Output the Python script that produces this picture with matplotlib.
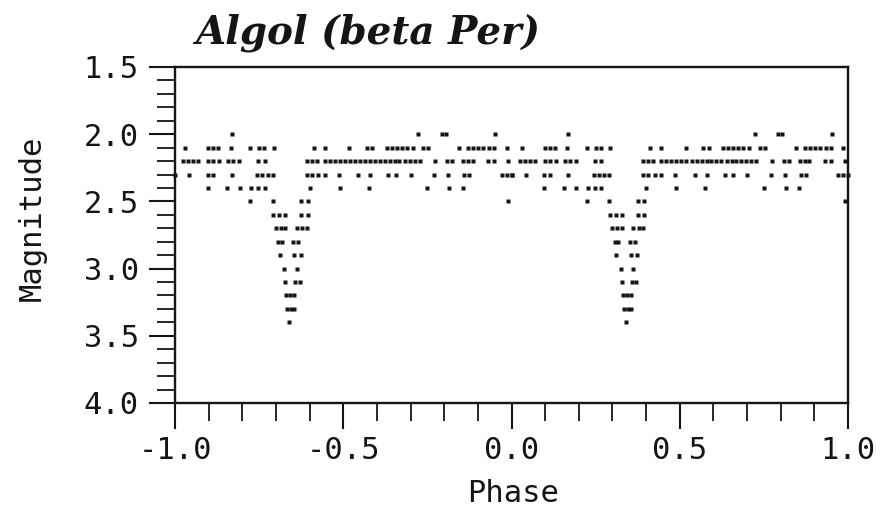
import numpy as np
import matplotlib.pyplot as plt
from matplotlib.ticker import MultipleLocator, FormatStrFormatter

# visual estimates of Algol, one cycle of phase (-1..0), grouped by magnitude
levels = [2.0, 2.1, 2.2, 2.3, 2.4, 2.5, 2.6, 2.7, 2.8, 2.9, 3.0, 3.1, 3.2, 3.3, 3.4]

mag_2_0 = [-0.832, -0.277, -0.208, -0.195, -0.049]
mag_2_1 = [-0.970, -0.901, -0.886, -0.871, -0.834, -0.777, -0.750, -0.735, -0.706, -0.587,
           -0.555, -0.482, -0.430, -0.414, -0.371, -0.356, -0.341, -0.326, -0.312, -0.294,
           -0.262, -0.247, -0.155, -0.128, -0.113, -0.099, -0.084, -0.066, -0.052, -0.014]
mag_2_2 = [-0.975, -0.960, -0.946, -0.931, -0.901, -0.886, -0.868, -0.842, -0.827, -0.809,
           -0.753, -0.733, -0.609, -0.594, -0.579, -0.555, -0.540, -0.525, -0.510, -0.495,
           -0.480, -0.465, -0.450, -0.435, -0.420, -0.406, -0.391, -0.376, -0.361, -0.346,
           -0.333, -0.317, -0.302, -0.287, -0.272, -0.227, -0.191, -0.176, -0.143, -0.128,
           -0.115, -0.069, -0.052, -0.009]
mag_2_3 = [-1.000, -0.958, -0.903, -0.886, -0.832, -0.756, -0.740, -0.724, -0.710, -0.609,
           -0.594, -0.575, -0.555, -0.513, -0.455, -0.420, -0.366, -0.343, -0.300, -0.230,
           -0.188, -0.141, -0.125, -0.029, -0.014, 0.000]
mag_2_4 = [-0.903, -0.844, -0.807, -0.774, -0.753, -0.733, -0.599, -0.510, -0.424, -0.250,
           -0.185, -0.145]
mag_2_5 = [-0.777, -0.710, -0.625, -0.606, -0.010]
mag_2_6 = [-0.708, -0.690, -0.673, -0.625, -0.606]
mag_2_7 = [-0.700, -0.686, -0.673, -0.638, -0.622, -0.609]
mag_2_8 = [-0.693, -0.683, -0.648, -0.634]
mag_2_9 = [-0.688, -0.645, -0.627]
mag_3_0 = [-0.675, -0.638]
mag_3_1 = [-0.672, -0.643, -0.629]
mag_3_2 = [-0.670, -0.657, -0.645]
mag_3_3 = [-0.666, -0.655, -0.645]
mag_3_4 = [-0.660]

phases = [mag_2_0, mag_2_1, mag_2_2, mag_2_3, mag_2_4, mag_2_5, mag_2_6, mag_2_7,
          mag_2_8, mag_2_9, mag_3_0, mag_3_1, mag_3_2, mag_3_3, mag_3_4]


def main():
    plt.rcParams['axes.unicode_minus'] = False
    mono = 'DejaVu Sans Mono'
    ink = '#151515'

    x = []
    y = []
    for m, ph in zip(levels, phases):
        x += ph
        y += [m] * len(ph)
    x = np.array(x)
    y = np.array(y)
    # the cycle is shown twice
    x = np.concatenate([x, x + 1.0])
    y = np.concatenate([y, y])

    fig = plt.figure(figsize=(8.81, 5.08), dpi=100)
    ax = fig.add_axes([175 / 881, 1 - 403 / 508, 673 / 881, 336 / 508])
    ax.plot(x, y, 's', ms=3.0, color=ink, mec='none', clip_on=False)

    ax.set_xlim(-1.0, 1.0)
    ax.set_ylim(4.0, 1.5)
    ax.xaxis.set_major_locator(MultipleLocator(0.5))
    ax.xaxis.set_minor_locator(MultipleLocator(0.1))
    ax.yaxis.set_major_locator(MultipleLocator(0.5))
    ax.yaxis.set_minor_locator(MultipleLocator(0.1))
    ax.xaxis.set_major_formatter(FormatStrFormatter('%.1f'))
    ax.yaxis.set_major_formatter(FormatStrFormatter('%.1f'))

    ax.tick_params(which='major', direction='out', length=19, width=1.5, pad=5,
                   labelsize=22, color=ink, labelcolor=ink)
    ax.tick_params(which='minor', direction='out', length=13, width=1.3, color=ink)
    ax.tick_params(axis='y', which='major', pad=7)
    for lab in ax.get_xticklabels() + ax.get_yticklabels():
        lab.set_family(mono)
    for s in ax.spines.values():
        s.set_linewidth(1.7)
        s.set_color(ink)

    fig.text(195 / 881, 1 - 33 / 508, 'Algol (beta Per)', fontsize=28, family='DejaVu Serif',
             style='italic', weight='bold', va='center', ha='left', color=ink)
    fig.text(32 / 881, 1 - 218 / 508, 'Magnitude', fontsize=22, family=mono, rotation=90,
             va='center', ha='center', color=ink)
    fig.text(513 / 881, 1 - 493 / 508, 'Phase', fontsize=22, family=mono,
             va='center', ha='center', color=ink)

    fig.savefig('out.png', dpi=100)


if __name__ == '__main__':
    main()
